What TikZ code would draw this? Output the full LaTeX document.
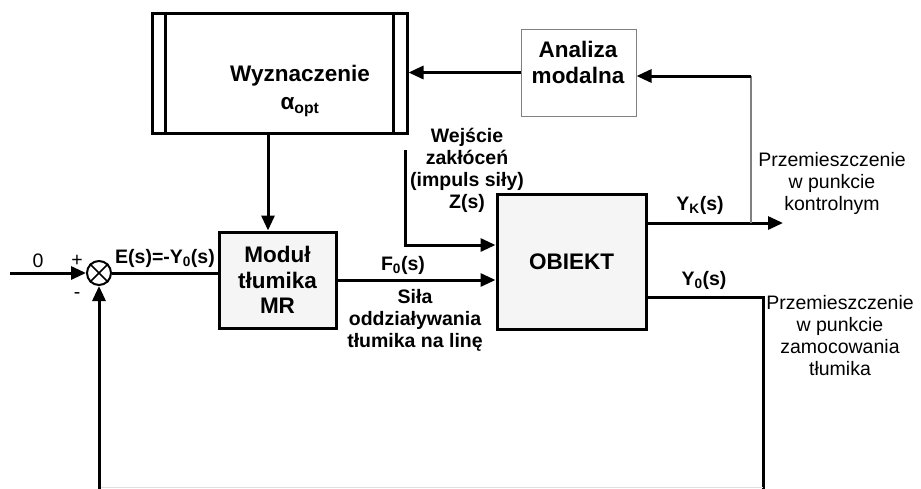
\documentclass[tikz,border=0pt]{standalone}
\usepackage{fontspec}
\setmainfont{Liberation Sans}
\usetikzlibrary{arrows.meta}

\begin{document}
\begin{tikzpicture}[x=1pt, y=-1pt,
        box/.style={draw, line width=3pt, fill=gray!8, inner sep=0pt, align=center, font=\fontsize{22.5}{25.5}\selectfont\bfseries},
        lbl/.style={inner sep=0pt, align=center, font=\fontsize{19.5}{22}\selectfont\bfseries},
        txt/.style={inner sep=0pt, align=center, font=\fontsize{19.5}{22}\selectfont},
        ln/.style={line width=3pt},
        arr/.style={line width=3pt, -{Triangle[length=15pt, width=13pt]}}]
        \useasboundingbox (0,0) rectangle (921,488);
        % Blocks
        \node[box, fill=white, minimum width=255pt, minimum height=120pt] (wyz) at (279.5,73) {};
        \draw[ln] ([xshift=15pt]wyz.north west) -- ([xshift=15pt]wyz.south west);
        \draw[ln] ([xshift=-15pt]wyz.north east) -- ([xshift=-15pt]wyz.south east);
        \node[lbl, font=\fontsize{22.5}{28}\selectfont\bfseries] (wyztxt) at (300,91) {Wyznaczenie\\α\textsubscript{opt}};
        \node[draw=gray, line width=1pt, fill=white, minimum width=115pt, minimum height=87pt] (ana) at (578.5,72.5) {};
        \node[lbl, font=\fontsize{22.5}{26}\selectfont\bfseries] (anatxt) at (578,62) {Analiza\\modalna};
        \node[box, minimum width=117pt, minimum height=96pt] (mod) at (277.5,280) {Moduł\\tłumika\\MR};
        \node[box, minimum width=149pt, minimum height=135pt] (obj) at (571.5,261.5) {OBIEKT};
        \node[circle, draw, line width=2pt, fill=white, minimum size=24pt, inner sep=0pt] (sum) at (99,273) {};
        \draw[line width=1.6pt] (sum.north east) -- (sum.south west) (sum.north west) -- (sum.south east);
        % Connectors
        \coordinate (in0) at (10,273);
        \coordinate (w1) at (268,0);
        \coordinate (z0) at (405,150);
        \coordinate (z1) at (405,245);
        \coordinate (yk) at (783,223);
        \coordinate (k0) at (751,223);
        \coordinate (k1) at (751,76);
        \coordinate (y0) at (763,297);
        \coordinate (b1) at (763,490);
        \coordinate (b0) at (99,490);
        \draw[arr] (in0) -- (sum.west);
        \draw[ln] (sum.east) -- (sum.east -| mod.west);
        \draw[arr] (wyz.south -| w1) -- (mod.north -| w1);
        \draw[arr] (ana.west) -- (ana.west -| wyz.east);
        \draw[arr] (mod.east) -- (mod.east -| obj.west);
        \draw[arr] (z0) -- (z1) -- (z1 -| obj.west);
        \draw[arr] (yk -| obj.east) -- (yk);
        \draw[gray, line width=1.3pt] (k0) -- (k1);
        \draw[arr] (k1) -- (k1 -| ana.east);
        \draw[ln] (y0 -| obj.east) -- (y0) -- (b1);
        \draw[gray!25, line width=1pt] (763,487.5) -- (99,487.5);
        \draw[arr] (b0) -- (sum.south);
        % Labels
        \node[txt] (zero) at (38,261) {0};
        \node[txt] (plus) at (77,261) {+};
        \node[txt] (minus) at (77,296) {-};
        \node[lbl] (elbl) at (165,258) {E(s)=-Y\textsubscript{0}(s)};
        \node[lbl] (flbl) at (403,265) {F\textsubscript{0}(s)};
        \node[lbl] (sila) at (415,320) {Siła\\oddziaływania\\tłumika na linę};
        \node[lbl] (zlbl) at (467,170) {Wejście\\zakłóceń\\(impuls siły)\\Z(s)};
        \node[lbl] (yklbl) at (700,205) {Y\textsubscript{K}(s)};
        \node[lbl] (y0lbl) at (704,280) {Y\textsubscript{0}(s)};
        \node[txt] (kontr) at (832,183) {Przemieszczenie\\w punkcie\\kontrolnym};
        \node[txt] (zamoc) at (840,336) {Przemieszczenie\\w punkcie\\zamocowania\\tłumika};
    \end{tikzpicture}
\end{document}
